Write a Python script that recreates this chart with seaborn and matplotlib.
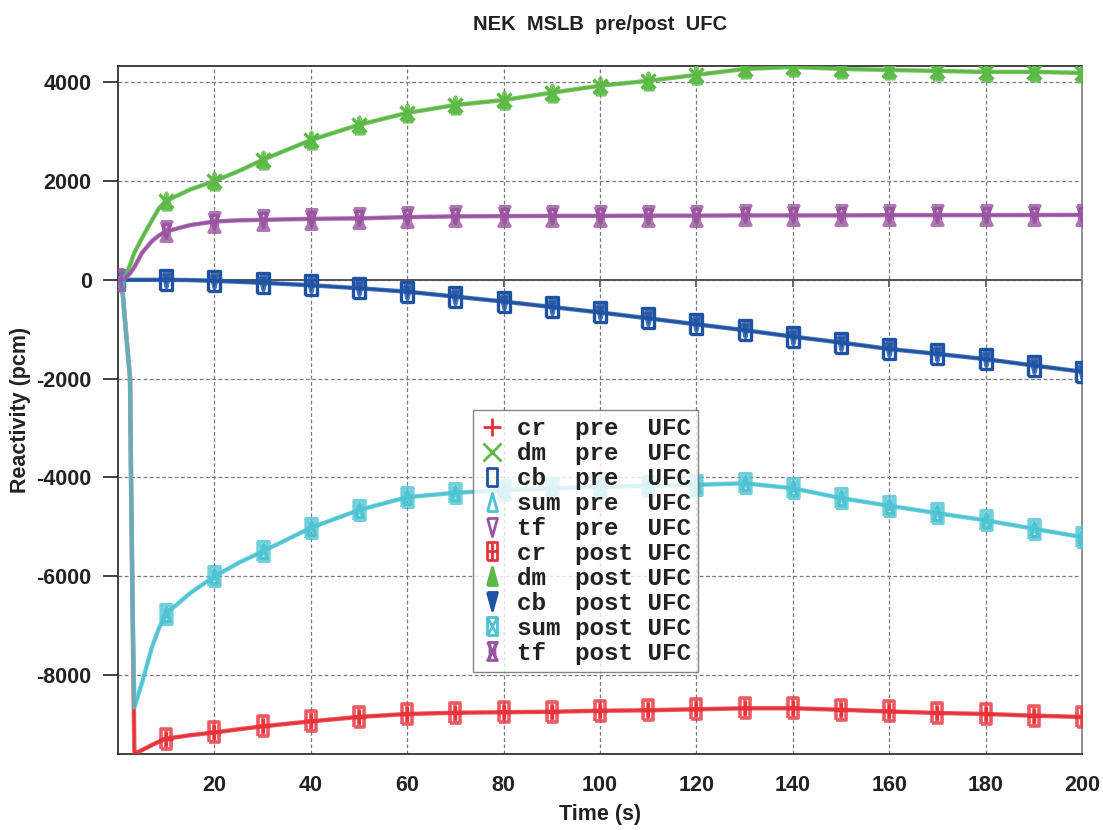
import numpy as np
import pandas as pd
import matplotlib
matplotlib.use("Agg")
import matplotlib.pyplot as plt
import seaborn as sns
from matplotlib.path import Path
from matplotlib.lines import Line2D

# ---------------- data ----------------
time_s = [0, 1, 1.6, 2.5, 2.7, 3.0, 3.4, 5, 7, 8.5, 10, 15, 20, 25, 30,
          40, 50, 60, 70, 80, 90, 100, 110, 120, 130, 140, 150, 160, 170, 180, 190, 200]

cr_pre = [0, -300, -1000, -2000, -4000, -6500, -9600, -9520, -9420, -9350, -9290, -9220, -9165, -9100, -9040,
          -8940, -8850, -8790, -8765, -8755, -8745, -8725, -8715, -8695, -8675, -8675, -8705, -8740,
          -8770, -8790, -8825, -8850]
dm_pre = [0, 30, 100, 300, 350, 450, 550, 850, 1200, 1450, 1600, 1830, 2000, 2200, 2430,
          2830, 3140, 3380, 3540, 3640, 3790, 3930, 4030, 4150, 4270, 4310, 4270, 4250,
          4230, 4210, 4210, 4190]
cb_pre = [0, 0, 0, 0, 0, 0, 0, 0, 0, 0, 0, -5, -20, -40, -60,
          -110, -170, -240, -340, -440, -550, -660, -780, -900, -1020, -1150, -1270, -1400,
          -1500, -1605, -1735, -1860]
sum_pre = [0, -300, -1000, -2000, -4000, -6500, -8660, -8150, -7450, -7050, -6760, -6340, -6005, -5730, -5500,
           -5020, -4660, -4400, -4310, -4260, -4220, -4190, -4170, -4150, -4120, -4220, -4420, -4575,
           -4725, -4870, -5040, -5210]
tf_pre = [0, 10, 40, 130, 160, 200, 260, 550, 780, 900, 980, 1110, 1180, 1205, 1215,
          1235, 1245, 1270, 1285, 1290, 1295, 1295, 1300, 1300, 1305, 1305, 1305, 1310,
          1310, 1310, 1312, 1315]

# post-UFC curves coincide with the pre-UFC curves in the picture
cr_post = list(cr_pre)
dm_post = list(dm_pre)
cb_post = list(cb_pre)
sum_post = list(sum_pre)
tf_post = list(tf_pre)

names = ["cr", "dm", "cb", "sum", "tf"]
pre_series = [cr_pre, dm_pre, cb_pre, sum_pre, tf_pre]
post_series = [cr_post, dm_post, cb_post, sum_post, tf_post]

y_ticks = [-8000, -6000, -4000, -2000, 0, 2000, 4000]
x_ticks = [20, 40, 60, 80, 100, 120, 140, 160, 180, 200]

# ---------------- styles ----------------
colors = {"cr": "#e8323a", "dm": "#5cb946", "cb": "#1f52a3", "sum": "#4ec4d2", "tf": "#9a55a2"}

def mpath(segs):
    verts, codes = [], []
    for s in segs:
        for j, v in enumerate(s):
            verts.append(v)
            codes.append(Path.MOVETO if j == 0 else Path.LINETO)
    return Path(verts, codes)

w = 0.55
rect = [(-w, -1), (w, -1), (w, 1), (-w, 1), (-w, -1)]
m_rect = mpath([rect])
m_rect_plus = mpath([rect, [(0, -1), (0, 1)], [(-w, 0), (w, 0)]])
m_rect_x = mpath([rect, [(-w, -1), (w, 1)], [(-w, 1), (w, -1)]])
m_tri_up = mpath([[(-w, -1), (w, -1), (0, 1), (-w, -1)], [(0, -1), (0, 1)]])
m_tri_dn = mpath([[(-w, 1), (w, 1), (0, -1), (-w, 1)], [(0, 1), (0, -1)]])
m_hour = mpath([[(-w, 1), (w, 1), (-w, -1), (w, -1), (-w, 1)], [(-w * 0.5, 1), (-w * 0.5, -1)],
                [(w * 0.5, 1), (w * 0.5, -1)]])
m_tri_up_open = mpath([[(-w, -1), (w, -1), (0, 1), (-w, -1)]])
m_tri_dn_open = mpath([[(-w, 1), (w, 1), (0, -1), (-w, 1)]])

pre_markers = {"cr": "+", "dm": "x", "cb": m_rect, "sum": m_tri_up_open, "tf": m_tri_dn_open}
post_markers = {"cr": m_rect_plus, "dm": m_tri_up, "cb": m_tri_dn, "sum": m_rect_x, "tf": m_hour}
post_fill = {"cr": "none", "dm": "full", "cb": "full", "sum": "none", "tf": "none"}
curve_post_size = {"cr": 14, "dm": 12, "cb": 10, "sum": 14, "tf": 14}
curve_pre_size = {"cr": 10, "dm": 10, "cb": 15, "sum": 10, "tf": 10}

# ---------------- figure ----------------
sns.set_theme(style="white")
plt.rcParams["font.family"] = ["Liberation Sans", "DejaVu Sans"]

fig = plt.figure(figsize=(11.03, 8.30), dpi=100)
ax = fig.add_axes([0.107, 0.0916, 0.874, 0.8289])

mark_idx = [i for i, t in enumerate(time_s) if t % 10 == 0]

for n, ys in zip(names, pre_series):
    df = pd.DataFrame({"t": time_s, "v": ys})
    sns.lineplot(data=df, x="t", y="v", ax=ax, sort=False, estimator=None,
                 color=colors[n], lw=1.8, marker=pre_markers[n],
                 markevery=mark_idx, markersize=curve_pre_size[n], markeredgewidth=2.4,
                 markerfacecolor="none", markeredgecolor=colors[n], legend=False, zorder=3)
for n, ys in zip(names, post_series):
    df = pd.DataFrame({"t": time_s, "v": ys})
    sns.lineplot(data=df, x="t", y="v", ax=ax, sort=False, estimator=None,
                 color=colors[n], lw=3.2, alpha=0.8, marker=post_markers[n],
                 markevery=mark_idx, markersize=curve_post_size[n], markeredgewidth=2.6,
                 markerfacecolor=colors[n] if post_fill[n] == "full" else "none",
                 markeredgecolor=colors[n], legend=False, zorder=4)

ax.set_xlim(0, 200)
ax.set_ylim(-9600, 4330)
ax.set_xticks(x_ticks)
ax.set_yticks(y_ticks)
ax.set_xticklabels([str(v) for v in x_ticks])
ax.set_yticklabels([str(v) for v in y_ticks])

ax.grid(True, color="#7a7a7a", linestyle=(0, (3, 2)), linewidth=0.9)
ax.axhline(0, color="#555555", lw=1.4, zorder=2)

for s in ax.spines.values():
    s.set_visible(True)
    s.set_color("#333333")
    s.set_linewidth(1.3)
ax.spines["right"].set_color("#888888")

ax.tick_params(axis="y", direction="out", length=11, width=1.3, color="#333333",
               labelsize=15.5, pad=8, left=True)
ax.tick_params(axis="x", length=0, labelsize=15.5, pad=15)
for lab in ax.get_xticklabels() + ax.get_yticklabels():
    lab.set_fontweight("bold")
    lab.set_color("#222222")

# small ticks on the zero line
sec = ax.secondary_xaxis(0, transform=ax.transData)
sec.set_xticks(x_ticks)
sec.set_xticklabels([])
sec.tick_params(axis="x", direction="out", length=5, width=1.2, color="#444444")
for k in list(sec.spines.keys()):
    sec.spines[k].set_visible(False)

ax.set_xlabel("Time (s)", fontsize=15.5, fontweight="bold", color="#222222", labelpad=6)
ax.set_ylabel("Reactivity (pcm)", fontsize=15.5, fontweight="bold", color="#222222", labelpad=4)
ax.set_title("NEK  MSLB  pre/post  UFC", fontsize=14.5, fontweight="bold", color="#222222", pad=26)

# legend (markers only)
handles, labels = [], []
for n in names:
    handles.append(Line2D([], [], linestyle="none", marker=pre_markers[n], markersize=13,
                          markeredgewidth=2, markerfacecolor="none", markeredgecolor=colors[n]))
    labels.append(f"{n:<3} {'pre':<4} UFC")
for n in names:
    handles.append(Line2D([], [], linestyle="none", marker=post_markers[n], markersize=13,
                          markeredgewidth=2,
                          markerfacecolor=colors[n] if post_fill[n] == "full" else "none",
                          markeredgecolor=colors[n]))
    labels.append(f"{n:<3} {'post':<4} UFC")

leg = ax.legend(handles, labels, loc="upper left", bbox_to_anchor=(0.368, 0.5),
                borderaxespad=0, frameon=True, fancybox=False, handlelength=1.0,
                handletextpad=0.5, labelspacing=0.08, borderpad=0.3,
                prop={"family": ["Liberation Mono", "DejaVu Sans Mono"], "weight": "bold", "size": 17.5})
leg.get_frame().set_edgecolor("#666666")
leg.get_frame().set_linewidth(1.0)
for t in leg.get_texts():
    t.set_color("#222222")
leg.set_zorder(10)

fig.savefig("out.png", dpi=100, facecolor="white")
